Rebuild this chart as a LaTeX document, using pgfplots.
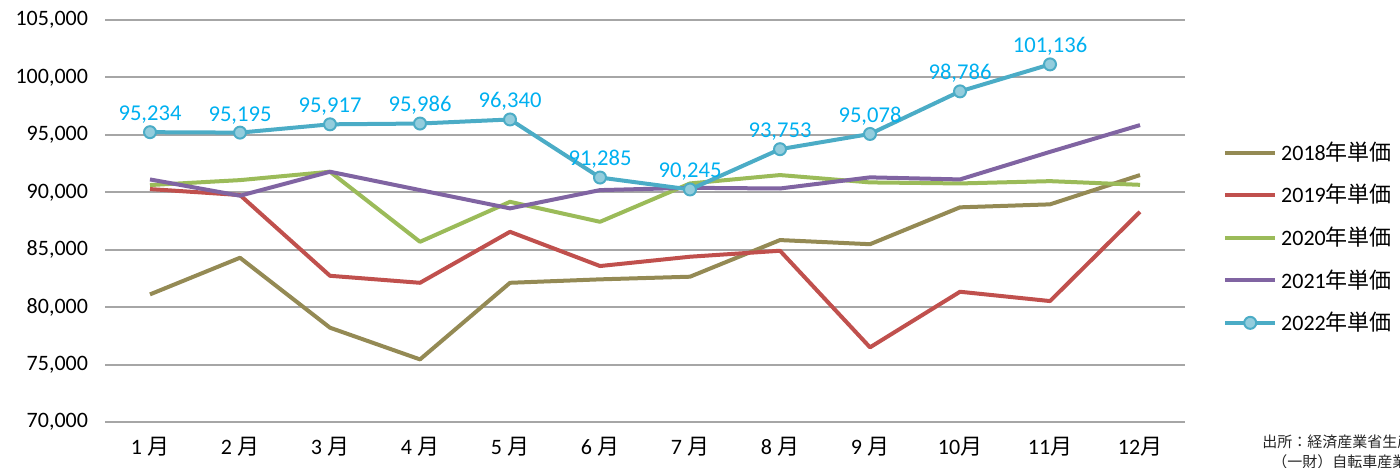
\documentclass[border=0pt]{standalone}
\usepackage{fontspec}
\setmainfont{Carlito}
\newfontfamily\cjk{Noto Sans CJK JP}
\usepackage{pgfplots}
\pgfplotsset{compat=1.18}
\definecolor{c18}{HTML}{948A54}
\definecolor{c19}{HTML}{C0504D}
\definecolor{c20}{HTML}{9BBB59}
\definecolor{c21}{HTML}{8064A2}
\definecolor{c22}{HTML}{4BACC6}
\definecolor{c22f}{HTML}{93CDDD}
\definecolor{lbl}{HTML}{00B0F0}
\definecolor{gridc}{HTML}{A6A6A6}
\begin{document}
\begin{tikzpicture}
\useasboundingbox (0,0) rectangle (700pt,233.5pt);
\begin{axis}[
  scale only axis,
  width=540pt, height=201pt,
  at={(52.5pt,22.5pt)}, anchor=south west,
  xmin=0.5, xmax=12.5,
  ymin=70000, ymax=105000,
  ytick distance=5000,
  scaled y ticks=false,
  xtick={1,...,12},
  xticklabels={1 {\cjk 月},2 {\cjk 月},3 {\cjk 月},4 {\cjk 月},5 {\cjk 月},6 {\cjk 月},7 {\cjk 月},8 {\cjk 月},9 {\cjk 月},10{\cjk 月},11{\cjk 月},12{\cjk 月}},
  /pgf/number format/assume math mode=true,
  yticklabel={\pgfmathprintnumber[fixed,precision=0,1000 sep={,}]{\tick}},
  axis line style={draw=none},
  tick style={draw=none},
  ymajorgrids,
  grid style={gridc, line width=1pt},
  ticklabel style={font=\fontsize{11}{13}\selectfont, text=black},
  yticklabel style={xshift=-5pt},
  xticklabel style={yshift=-4pt},
  legend style={draw=none, fill=none, at={(1.035,0.708)}, anchor=north west,
    font=\fontsize{11}{13}\selectfont, row sep=6.5pt, inner sep=0pt},
  legend cell align=left,
  legend image code/.code={\draw[mark repeat=2,mark phase=2,#1] plot coordinates {(0pt,0pt) (12.5pt,0pt) (25pt,0pt)};},
  every axis plot/.append style={line width=2pt, line join=round},
]
\addplot[c18, no marks] coordinates {(1,81110) (2,84300) (3,78210) (4,75450) (5,82120) (6,82420) (7,82650) (8,85840) (9,85480) (10,88690) (11,88950) (12,91500)};
\addlegendentry{2018{\cjk 年単価}}
\addplot[c19, no marks] coordinates {(1,90280) (2,89760) (3,82730) (4,82120) (5,86560) (6,83580) (7,84390) (8,84910) (9,76500) (10,81340) (11,80530) (12,88300)};
\addlegendentry{2019{\cjk 年単価}}
\addplot[c20, no marks] coordinates {(1,90630) (2,91060) (3,91790) (4,85690) (5,89170) (6,87430) (7,90770) (8,91500) (9,90860) (10,90770) (11,90970) (12,90650)};
\addlegendentry{2020{\cjk 年単価}}
\addplot[c21, no marks] coordinates {(1,91120) (2,89700) (3,91790) (4,90190) (5,88600) (6,90190) (7,90390) (8,90330) (9,91300) (10,91120) (11,93520) (12,95850)};
\addlegendentry{2021{\cjk 年単価}}
\addplot[c22, mark=*, mark size=3pt, mark options={fill=c22f, draw=c22, line width=1pt},
  nodes near coords={\pgfmathprintnumber[fixed,precision=0,1000 sep={,}]{\pgfplotspointmeta}},
  every node near coord/.append style={font=\fontsize{11.3}{13}\selectfont, text=lbl, yshift=0.5pt}]
  coordinates {(1,95234) (2,95195) (3,95917) (4,95986) (5,96340) (6,91285) (7,90245) (8,93753) (9,95078) (10,98786) (11,101136)};
\addlegendentry{2022{\cjk 年単価}}
\end{axis}
\node[anchor=west, inner sep=0pt, font=\cjk\fontsize{7.5}{9}\selectfont, text=black!85] at (631pt,12.5pt) {出所：経済産業省生産動態統計};
\node[anchor=west, inner sep=0pt, font=\cjk\fontsize{7.5}{9}\selectfont, text=black!85] at (636pt,2.5pt) {（一財）自転車産業振興協会};
\end{tikzpicture}
\end{document}
